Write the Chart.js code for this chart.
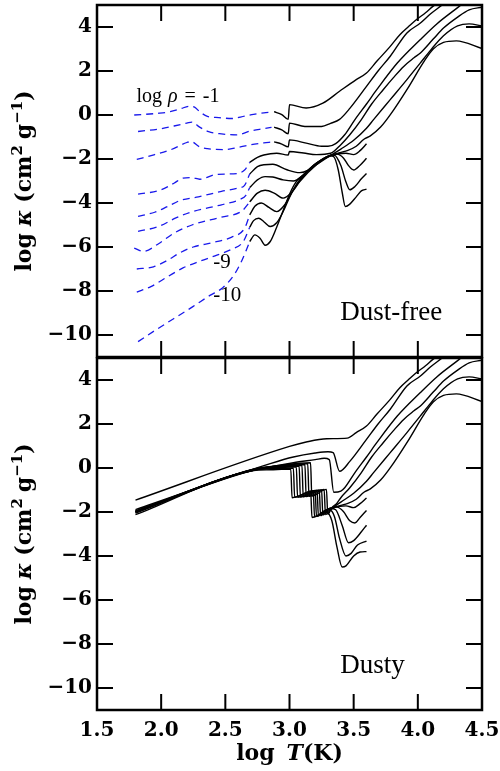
<!DOCTYPE html>
<html>
<head>
<meta charset="utf-8">
<script src="https://cdn.jsdelivr.net/npm/chart.js@4.4.1/dist/chart.umd.min.js"></script>
<style>
  html, body { margin: 0; padding: 0; background: #fff; }
  #wrap { position: relative; width: 500px; height: 771px; }
  canvas { position: absolute; left: 0; }
  #top { top: 0; }
  #bottom { top: 357px; }
</style>
</head>
<body>
<div id="wrap">
  <canvas id="top" width="500" height="360"></canvas>
  <canvas id="bottom" width="500" height="414"></canvas>
</div>
<script>
'use strict';

// axis ticks
const xTicks = [1.5, 2.0, 2.5, 3.0, 3.5, 4.0, 4.5]
const yTicks = [-10, -8, -6, -4, -2, 0, 2, 4]

// dust-free, low temperature part (blue dashed), log rho = -1 ... -10
const cold_m1 = [[1.79,0.0],[1.98,0.08],[2.07,0.15],[2.15,0.28],[2.22,0.4],[2.26,0.36],[2.3,0.15],[2.36,-0.06],[2.45,-0.12],[2.55,-0.16],[2.65,-0.05],[2.72,0.03],[2.8,0.1],[2.86,0.13]]
const cold_m2 = [[1.82,-0.75],[1.99,-0.63],[2.1,-0.5],[2.2,-0.37],[2.24,-0.32],[2.3,-0.55],[2.37,-0.76],[2.47,-0.86],[2.59,-0.9],[2.7,-0.72],[2.8,-0.62],[2.86,-0.56]]
const cold_m3 = [[1.81,-2.02],[1.95,-1.8],[2.07,-1.59],[2.2,-1.25],[2.23,-1.2],[2.3,-1.45],[2.36,-1.53],[2.5,-1.57],[2.6,-1.47],[2.7,-1.35],[2.8,-1.27],[2.86,-1.23]]
const cold_m4 = [[1.82,-3.6],[1.99,-3.42],[2.1,-3.1],[2.17,-2.87],[2.24,-2.85],[2.3,-2.92],[2.43,-2.7],[2.59,-2.66],[2.65,-2.5],[2.69,-2.15]]
const cold_m5 = [[1.82,-4.61],[1.95,-4.42],[2.05,-4.16],[2.15,-3.88],[2.29,-3.72],[2.47,-3.47],[2.6,-3.32],[2.65,-3.2],[2.69,-2.68]]
const cold_m6 = [[1.82,-5.29],[1.98,-5.07],[2.11,-4.69],[2.24,-4.4],[2.47,-4.08],[2.62,-3.82],[2.66,-3.65],[2.69,-3.3]]
const cold_m7 = [[1.79,-6.05],[1.86,-6.2],[1.98,-5.85],[2.1,-5.37],[2.24,-5.0],[2.47,-4.64],[2.63,-4.36],[2.69,-3.95]]
const cold_m8 = [[1.81,-7.0],[1.94,-6.9],[2.05,-6.6],[2.15,-6.25],[2.25,-6.0],[2.4,-5.8],[2.55,-5.55],[2.65,-5.15],[2.69,-4.54]]
const cold_m9 = [[1.81,-8.05],[1.92,-7.8],[2.05,-7.35],[2.17,-6.95],[2.3,-6.65],[2.42,-6.4],[2.55,-6.1],[2.64,-5.75],[2.69,-5.1]]
const cold_m10 = [[1.82,-10.3],[1.95,-9.8],[2.1,-9.25],[2.25,-8.7],[2.38,-8.2],[2.48,-7.85],[2.57,-7.25],[2.63,-6.6],[2.69,-5.75]]

// dust-free, high temperature part (black)
const hot_m1 = [[2.88,0.15],[2.94,0.02],[2.99,-0.2],[3.0,0.47],[3.13,0.32],[3.26,0.54],[3.39,1.08],[3.52,1.61],[3.6,1.91],[3.68,2.44],[3.785,3.12],[3.86,3.65],[3.93,4.03],[3.99,4.34],[4.06,4.65],[4.12,4.95],[4.2,5.3]]
const hot_m2 = [[2.88,-0.55],[2.94,-0.68],[2.99,-0.85],[3.0,-0.37],[3.12,-0.52],[3.25,-0.52],[3.32,-0.38],[3.39,-0.2],[3.47,0.3],[3.6,1.3],[3.69,2.0],[3.785,2.67],[3.915,3.73],[4.02,4.18],[4.1,4.6],[4.2,5.05],[4.25,5.3]]
const hot_m3 = [[2.88,-1.22],[2.94,-1.32],[2.99,-1.45],[3.0,-1.13],[3.13,-1.28],[3.25,-1.42],[3.3,-1.42],[3.36,-1.3],[3.43,-0.9],[3.51,-0.21],[3.6,0.5],[3.68,1.15],[3.84,2.36],[4.02,3.43],[4.15,4.15],[4.31,4.88],[4.38,5.2]]
const hot_m4 = [[2.69,-2.15],[2.75,-1.93],[2.8,-1.82],[2.9,-1.74],[2.99,-1.82],[3.0,-1.66],[3.11,-1.73],[3.21,-1.8],[3.32,-1.74],[3.4,-1.35],[3.47,-0.9],[3.56,-0.21],[3.64,0.5],[3.73,1.15],[3.81,1.7],[3.89,2.21],[3.97,2.6],[4.02,2.82],[4.12,3.45],[4.2,3.95],[4.31,4.45],[4.4,4.78],[4.5,4.9]]
const hot_m5 = [[2.69,-2.68],[2.75,-2.35],[2.8,-2.26],[2.87,-2.24],[2.98,-2.49],[3.08,-2.62],[3.15,-2.5],[3.21,-2.26],[3.32,-1.84],[3.4,-1.55],[3.5,-1.15],[3.6,-0.6],[3.655,-0.21],[3.785,0.7],[3.915,1.61],[4.02,2.37],[4.1,2.95],[4.2,3.6],[4.31,4.05],[4.4,4.14],[4.5,4.05]]
const hot_m6 = [[2.69,-3.3],[2.75,-2.95],[2.81,-2.8],[2.87,-2.82],[2.95,-2.95],[3.03,-3.0],[3.11,-2.72],[3.21,-2.19],[3.32,-1.86],[3.4,-1.7],[3.45,-1.62],[3.52,-1.42],[3.58,-1.1],[3.63,-0.95],[3.71,-0.55],[3.79,0.05],[3.92,1.2],[4.05,2.45],[4.12,3.0],[4.2,3.3],[4.3,3.37],[4.5,3.02]]
const hot_m7 = [[2.69,-3.95],[2.75,-3.55],[2.81,-3.42],[2.88,-3.55],[2.95,-3.78],[3.02,-3.5],[3.08,-3.02],[3.21,-2.26],[3.32,-1.82],[3.38,-1.76],[3.44,-1.74],[3.5,-1.8],[3.55,-1.62],[3.6,-1.31]]
const hot_m8 = [[2.69,-4.54],[2.73,-4.15],[2.78,-4.0],[2.84,-4.2],[2.9,-4.39],[2.96,-4.1],[3.03,-3.4],[3.13,-2.64],[3.22,-2.15],[3.32,-1.83],[3.37,-1.78],[3.42,-1.95],[3.46,-2.3],[3.5,-2.5],[3.55,-2.28],[3.6,-1.97]]
const hot_m9 = [[2.69,-5.1],[2.72,-4.8],[2.76,-4.69],[2.8,-4.85],[2.85,-5.07],[2.9,-4.9],[2.95,-4.4],[3.0,-3.75],[3.06,-3.1],[3.13,-2.6],[3.19,-2.3],[3.32,-1.84],[3.35,-1.83],[3.4,-2.3],[3.44,-3.05],[3.47,-3.4],[3.51,-3.25],[3.56,-2.9],[3.6,-2.66]]
const hot_m10 = [[2.69,-5.75],[2.73,-5.45],[2.77,-5.6],[2.81,-5.92],[2.85,-5.75],[2.9,-5.1],[2.95,-4.35],[3.0,-3.6],[3.05,-3.05],[3.11,-2.7],[3.21,-2.19],[3.32,-1.86],[3.345,-1.9],[3.38,-2.5],[3.41,-3.5],[3.435,-4.16],[3.47,-4.05],[3.52,-3.72],[3.56,-3.45],[3.6,-3.37]]

// dusty, log rho = -1 ... -11 (the hottest parts are the dust-free ones)
const tail = (arr, t0) => arr.filter(p => p[0] >= t0)
const dusty_m1 = [[1.8,-1.46],[3.0,0.98],[3.13,1.18],[3.29,1.33],[3.45,1.36], ...tail(hot_m1, 3.52)]
const dusty_m2 = [[1.8,-1.89],[2.85,0.2],[3.03,0.5],[3.2,0.68],[3.3,0.74],[3.34,0.7],[3.39,-0.15], ...tail(hot_m2, 3.47)]
const dusty_m3 = [[1.8,-1.95],[2.75,-0.05],[2.9,0.1],[3.03,0.24],[3.2,0.38],[3.27,0.44],[3.31,0.38],[3.345,-1.1],[3.4,-1.05], ...tail(hot_m3, 3.43)]
const dusty_m4 = [[1.8,-1.96],[2.72,-0.05],[2.9,0.1],[3.164,0.24],[3.174,-1.28],[3.288,-0.97],[3.298,-2.1],[3.33,-1.8],[3.37,-1.6], ...tail(hot_m4, 3.4)]
const dusty_m5 = [[1.8,-1.97],[2.72,-0.06],[2.9,0.08],[3.142,0.2],[3.152,-1.29],[3.27,-0.98],[3.28,-2.12],[3.31,-1.95],[3.34,-1.8], ...tail(hot_m5, 3.4)]
const dusty_m6 = [[1.8,-1.98],[2.72,-0.07],[2.9,0.06],[3.12,0.16],[3.13,-1.3],[3.25,-0.99],[3.26,-2.14],[3.3,-1.92],[3.34,-1.82], ...tail(hot_m6, 3.4)]
const dusty_m7 = [[1.8,-1.99],[2.72,-0.08],[2.9,0.04],[3.097,0.12],[3.107,-1.31],[3.232,-1.0],[3.242,-2.16],[3.29,-1.9],[3.33,-1.8],[3.38,-1.75],[3.44,-1.72],[3.5,-1.8],[3.55,-1.62],[3.6,-1.36]]
const dusty_m8 = [[1.8,-2.0],[2.72,-0.08],[2.9,0.02],[3.075,0.09],[3.085,-1.32],[3.215,-1.01],[3.225,-2.18],[3.28,-1.92],[3.33,-1.8],[3.37,-1.78],[3.42,-1.98],[3.47,-2.4],[3.51,-2.5],[3.55,-2.25],[3.6,-1.93]]
const dusty_m9 = [[1.8,-2.02],[2.72,-0.1],[2.9,0.0],[3.053,0.05],[3.063,-1.33],[3.2,-1.02],[3.21,-2.2],[3.27,-1.95],[3.32,-1.84],[3.36,-1.9],[3.41,-2.6],[3.46,-3.4],[3.5,-3.3],[3.56,-2.9],[3.6,-2.6]]
const dusty_m10 = [[1.8,-2.05],[2.72,-0.1],[2.9,-0.03],[3.03,0.0],[3.04,-1.33],[3.185,-1.03],[3.195,-2.22],[3.26,-2.0],[3.31,-1.9],[3.35,-2.2],[3.39,-3.2],[3.44,-4.0],[3.48,-3.88],[3.53,-3.5],[3.6,-3.32]]
const dusty_m11 = [[1.8,-2.12],[2.72,-0.12],[2.85,-0.08],[3.01,-0.05],[3.02,-1.35],[3.1,-1.2],[3.165,-1.05],[3.175,-2.25],[3.24,-2.1],[3.29,-2.02],[3.33,-2.4],[3.37,-3.6],[3.41,-4.5],[3.44,-4.45],[3.5,-4.0],[3.55,-3.82],[3.6,-3.8]]

const coldCurves = [cold_m1, cold_m2, cold_m3, cold_m4, cold_m5, cold_m6, cold_m7, cold_m8, cold_m9, cold_m10]
const hotCurves = [hot_m1, hot_m2, hot_m3, hot_m4, hot_m5, hot_m6, hot_m7, hot_m8, hot_m9, hot_m10]
const dustyCurves = [dusty_m1, dusty_m2, dusty_m3, dusty_m4, dusty_m5, dusty_m6, dusty_m7, dusty_m8, dusty_m9, dusty_m10, dusty_m11]

const BLUE = 'rgb(25,25,235)'
const SERIF = '"DejaVu Serif"'
const ROMAN = '"Liberation Serif"'

// rich text (mixed fonts, superscripts)
const richWidth = (ctx, parts) => parts.reduce((w, p) => {
    ctx.font = p.font
    return w + ctx.measureText(p.text).width + (p.gap || 0)
}, 0)
const drawRich = (ctx, parts, x, y) => {
    parts.forEach(p => {
        ctx.font = p.font
        ctx.fillText(p.text, x, y + (p.dy || 0))
        x += ctx.measureText(p.text).width + (p.gap || 0)
    })
}

const B22 = `bold 22px ${SERIF}`, BI22 = `bold italic 22px ${SERIF}`, B15 = `bold 15px ${SERIF}`
const yTitle = [
    { text: 'log', font: B22, gap: 7 }, { text: 'κ', font: BI22, gap: 7 },
    { text: '(cm', font: B22 }, { text: '2', font: B15, dy: -9, gap: 6 },
    { text: 'g', font: B22 }, { text: '−1', font: B15, dy: -9 }, { text: ')', font: B22 }
]
const xTitle = [{ text: 'log', font: B22, gap: 12 }, { text: 'T', font: BI22 }, { text: '(K)', font: B22 }]

const R20 = `20px ${ROMAN}`, RI20 = `italic 20px ${ROMAN}`, R21 = `21px ${ROMAN}`, R27 = `27px ${ROMAN}`
const topNotes = [
    { at: [1.807, 0.57], parts: [{ text: 'log', font: R20, gap: 6 }, { text: 'ρ', font: RI20, gap: 7 }, { text: '=', font: R20, gap: 7 }, { text: '-1', font: R20 }] },
    { at: [2.405, -6.95], parts: [{ text: '-9', font: R21 }] },
    { at: [2.405, -8.45], parts: [{ text: '-10', font: R21 }] },
    { at: [3.395, -9.31], parts: [{ text: 'Dust-free', font: R27 }] }
]
const bottomNotes = [
    { at: [3.395, -9.32], parts: [{ text: 'Dusty', font: R27 }] }
]

// frame, inward ticks, titles and notes
const framePlugin = {
    id: 'frame',
    afterDraw(chart, args, opts) {
        const { ctx, chartArea: a } = chart
        const x = chart.scales.x, y = chart.scales.y
        ctx.save()
        ctx.strokeStyle = '#000'
        ctx.lineWidth = 2
        ctx.beginPath()
        xTicks.forEach(v => {
            const px = x.getPixelForValue(v)
            ctx.moveTo(px, a.top); ctx.lineTo(px, a.top + 16)
            ctx.moveTo(px, a.bottom); ctx.lineTo(px, a.bottom - 16)
        })
        yTicks.forEach(v => {
            const py = y.getPixelForValue(v)
            ctx.moveTo(a.left, py); ctx.lineTo(a.left + 16, py)
            ctx.moveTo(a.right, py); ctx.lineTo(a.right - 16, py)
        })
        ctx.stroke()
        ctx.lineWidth = 2.5
        ctx.strokeRect(a.left, a.top, a.right - a.left, a.bottom - a.top)

        ctx.fillStyle = '#000'
        ctx.textAlign = 'left'
        ctx.textBaseline = 'alphabetic'
        ;(opts.notes || []).forEach(n => drawRich(ctx, n.parts, x.getPixelForValue(n.at[0]), y.getPixelForValue(n.at[1])))

        if (opts.xTitle) {
            drawRich(ctx, xTitle, (a.left + a.right) / 2 - richWidth(ctx, xTitle) / 2, opts.xTitleY)
        }
        ctx.translate(31, (a.top + a.bottom) / 2)
        ctx.rotate(-Math.PI / 2)
        drawRich(ctx, yTitle, -richWidth(ctx, yTitle) / 2, 0)
        ctx.restore()
    }
}

const tickFont = { family: 'DejaVu Serif', size: 20, weight: 'bold' }
const fmtY = v => (v < 0 ? '\u2212' + Math.abs(v) : String(v))

const lineSet = (pts, dashed) => ({
    data: pts.map(p => ({ x: p[0], y: p[1] })),
    borderColor: dashed ? BLUE : '#000',
    borderWidth: dashed ? 1.3 : 1.4,
    borderDash: dashed ? [7, 5] : [],
    pointRadius: 0,
    fill: false,
    cubicInterpolationMode: 'monotone'
})

const makeOptions = (showX, notes) => ({
    responsive: false,
    animation: false,
    devicePixelRatio: 1,
    events: [],
    layout: { padding: { top: showX ? 1 : 5, right: 18, bottom: showX ? 0 : 3, left: 0 } },
    plugins: {
        legend: { display: false },
        tooltip: { enabled: false },
        frame: { notes, xTitle: showX, xTitleY: 403 }
    },
    scales: {
        x: {
            type: 'linear', min: 1.5, max: 4.5, display: showX,
            afterBuildTicks: s => { s.ticks = xTicks.map(v => ({ value: v })) },
            afterFit: s => {
                if (showX) s.height = 61
                s.paddingLeft = 0; s.paddingRight = 0
            },
            grid: { display: false, drawTicks: false },
            border: { display: false },
            ticks: { font: tickFont, color: '#000', padding: 9, autoSkip: false, maxRotation: 0, callback: v => v.toFixed(1) }
        },
        y: {
            type: 'linear', min: -11, max: 5,
            afterBuildTicks: s => { s.ticks = yTicks.map(v => ({ value: v })) },
            afterFit: s => {
                s.width = 97
                s.paddingTop = 0; s.paddingBottom = 0
            },
            grid: { display: false, drawTicks: false },
            border: { display: false },
            ticks: { font: tickFont, color: '#000', padding: 5, autoSkip: false, callback: fmtY }
        }
    }
})

new Chart(document.getElementById('top'), {
    type: 'line',
    data: { datasets: [...coldCurves.map(c => lineSet(c, true)), ...hotCurves.map(c => lineSet(c, false))] },
    options: makeOptions(false, topNotes),
    plugins: [framePlugin]
})

new Chart(document.getElementById('bottom'), {
    type: 'line',
    data: { datasets: dustyCurves.map(c => lineSet(c, false)) },
    options: makeOptions(true, bottomNotes),
    plugins: [framePlugin]
})
</script>
</body>
</html>
